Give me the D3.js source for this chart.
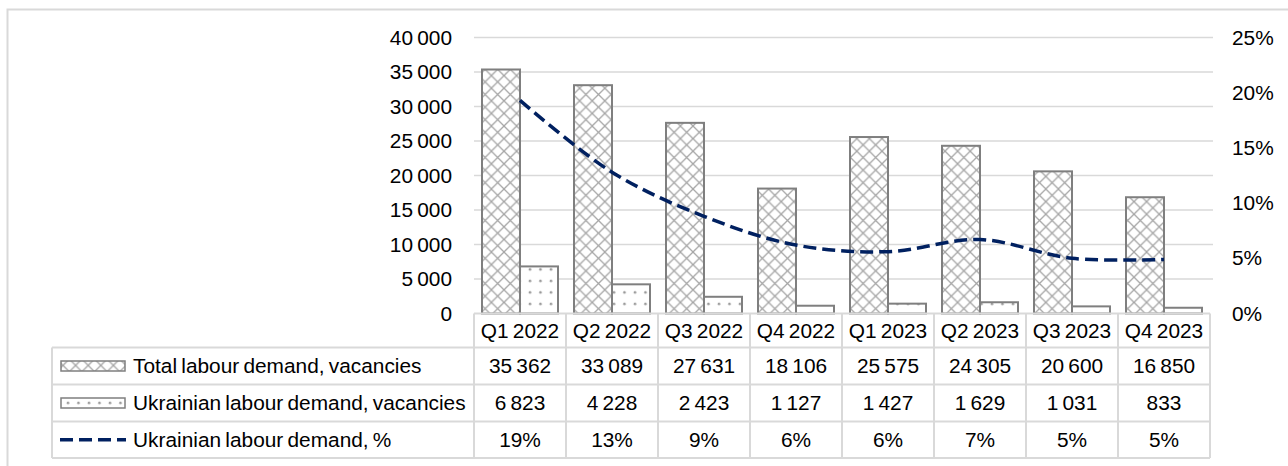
<!DOCTYPE html>
<html>
<head>
<meta charset="utf-8">
<script src="https://cdn.jsdelivr.net/npm/d3@7"></script>
<style>
  html, body { margin: 0; padding: 0; background: #fff; }
  svg text { font-family: "Liberation Sans", Arial, sans-serif; fill: #000; word-spacing: -1.5px; }
</style>
</head>
<body>
<svg id="chart" width="1288" height="466"></svg>
<script>
// data
var quarters = ["Q1 2022", "Q2 2022", "Q3 2022", "Q4 2022", "Q1 2023", "Q2 2023", "Q3 2023", "Q4 2023"];
var totalDemand = [35362, 33089, 27631, 18106, 25575, 24305, 20600, 16850];
var ukrDemand = [6823, 4228, 2423, 1127, 1427, 1629, 1031, 833];
var ukrShare = [19.3, 12.8, 8.8, 6.2, 5.6, 6.7, 5.0, 4.9];
var ukrShareLabels = ["19%", "13%", "9%", "6%", "6%", "7%", "5%", "5%"];
var leftTicks = [0, 5000, 10000, 15000, 20000, 25000, 30000, 35000, 40000];
var rightTicks = [0, 5, 10, 15, 20, 25];
var seriesNames = ["Total labour demand, vacancies", "Ukrainian labour demand, vacancies", "Ukrainian labour demand, %"];

var svg = d3.select("#chart");
var W = 1288, H = 466;
var fs = 19.5, sx = 1.07;
var grid = "#d9d9d9", barStroke = "#7f7f7f", navy = "#002060";

var loc = d3.formatLocale({decimal: ",", thousands: " ", grouping: [3], currency: ["", ""]});
var fmt = loc.format(",d");

// layout
var plotL = 474, plotR = 1210, plotT = 37.5, plotB = 313.5;
var rows = [313.5, 347.5, 384.5, 421.5, 458];
var tableL = 52;
var rowMid = function(k){ return (rows[k] + rows[k + 1]) / 2; };

function txt(g, x, y, s, anchor) {
  return g.append("text")
    .attr("transform", "translate(" + x + "," + y + ") scale(" + sx + ",1)")
    .attr("text-anchor", anchor || "middle")
    .attr("dy", "0.36em")
    .attr("font-size", fs)
    .text(s);
}

var defs = svg.append("defs");
var hatch = defs.append("pattern").attr("id", "hatch")
  .attr("patternUnits", "userSpaceOnUse").attr("width", 12.6).attr("height", 12.6);
hatch.append("rect").attr("width", 12.6).attr("height", 12.6).attr("fill", "#fff");
hatch.append("path").attr("d", "M0,0L12.6,12.6M12.6,0L0,12.6M-1,11.6L1,13.6M11.6,-1L13.6,1")
  .attr("stroke", "#a6a6a6").attr("stroke-width", 1.3);

function dotPattern(id, oy) {
  var p = defs.append("pattern").attr("id", id)
    .attr("patternUnits", "userSpaceOnUse").attr("y", oy).attr("width", 10.5).attr("height", 11.5);
  p.append("rect").attr("width", 10.5).attr("height", 11.5).attr("fill", "#fff");
  p.append("circle").attr("cx", 5).attr("cy", 5).attr("r", 1.3).attr("fill", "#999");
}
dotPattern("dots", 0);
dotPattern("dotsKey", rowMid(2) - 5);

// outer frame
svg.append("path").attr("d", "M7.5," + H + "V9.5H" + W)
  .attr("fill", "none").attr("stroke", grid).attr("stroke-width", 2);

var x = d3.scaleBand().domain(quarters).range([plotL, plotR]);
var x1 = d3.scaleBand().domain(["total", "ukr"]).range([8, x.bandwidth() - 8]);
var y = d3.scaleLinear().domain([0, 40000]).range([plotB, plotT]);
var y2 = d3.scaleLinear().domain([0, 25]).range([plotB, plotT]);

// gridlines
svg.append("g").selectAll("line").data(leftTicks.slice(1)).join("line")
  .attr("x1", plotL).attr("x2", 1213)
  .attr("y1", function(d){ return y(d); }).attr("y2", function(d){ return y(d); })
  .attr("stroke", grid).attr("stroke-width", 1.5);

// axis labels
var axL = svg.append("g");
leftTicks.forEach(function(t){ txt(axL, 452, y(t), fmt(t), "end"); });
var axR = svg.append("g");
rightTicks.forEach(function(t){ txt(axR, 1232, y2(t), t + "%", "start"); });

// bars
var bars = svg.append("g");
bars.selectAll("rect.total").data(totalDemand).join("rect").attr("class", "total")
  .attr("x", function(d, i){ return x(quarters[i]) + x1("total"); })
  .attr("width", x1.bandwidth())
  .attr("y", function(d){ return y(d); })
  .attr("height", function(d){ return y(0) - y(d); })
  .attr("fill", "url(#hatch)").attr("stroke", barStroke).attr("stroke-width", 2);
bars.selectAll("rect.ukr").data(ukrDemand).join("rect").attr("class", "ukr")
  .attr("x", function(d, i){ return x(quarters[i]) + x1("ukr"); })
  .attr("width", x1.bandwidth())
  .attr("y", function(d){ return y(d); })
  .attr("height", function(d){ return y(0) - y(d); })
  .attr("fill", "url(#dots)").attr("stroke", barStroke).attr("stroke-width", 2);

// share line
var line = d3.line()
  .x(function(d, i){ return x(quarters[i]) + x.bandwidth() / 2; })
  .y(function(d){ return y2(d); })
  .curve(d3.curveCatmullRom);
svg.append("path").datum(ukrShare).attr("d", line)
  .attr("fill", "none").attr("stroke", navy).attr("stroke-width", 3.5)
  .attr("stroke-dasharray", "13,6");

// data table
var tbl = svg.append("g").attr("stroke", grid).attr("stroke-width", 2);
tbl.append("line").attr("x1", plotL).attr("x2", plotR).attr("y1", rows[0]).attr("y2", rows[0]);
rows.slice(1).forEach(function(r){
  tbl.append("line").attr("x1", tableL).attr("x2", plotR).attr("y1", r).attr("y2", r);
});
tbl.append("line").attr("x1", tableL).attr("x2", tableL).attr("y1", rows[1]).attr("y2", rows[4]);
quarters.forEach(function(q){
  tbl.append("line").attr("x1", x(q)).attr("x2", x(q)).attr("y1", rows[0]).attr("y2", rows[4]);
});
tbl.append("line").attr("x1", plotR).attr("x2", plotR).attr("y1", rows[0]).attr("y2", rows[4]);

var tt = svg.append("g");
quarters.forEach(function(q, i){
  var cx = x(q) + x.bandwidth() / 2;
  txt(tt, cx, rowMid(0), q);
  txt(tt, cx, rowMid(1), fmt(totalDemand[i]));
  txt(tt, cx, rowMid(2), fmt(ukrDemand[i]));
  txt(tt, cx, rowMid(3), ukrShareLabels[i]);
});

// legend keys in the table
var lg = svg.append("g");
lg.append("rect").attr("x", 61).attr("y", rowMid(1) - 5).attr("width", 64).attr("height", 10)
  .attr("fill", "url(#hatch)").attr("stroke", barStroke).attr("stroke-width", 1.5);
lg.append("rect").attr("x", 61).attr("y", rowMid(2) - 5).attr("width", 64).attr("height", 10)
  .attr("fill", "url(#dotsKey)").attr("stroke", barStroke).attr("stroke-width", 1.5);
lg.append("line").attr("x1", 60).attr("x2", 126).attr("y1", rowMid(3)).attr("y2", rowMid(3))
  .attr("stroke", navy).attr("stroke-width", 3.5).attr("stroke-dasharray", "13,6");
seriesNames.forEach(function(s, k){ txt(lg, 133, rowMid(k + 1), s, "start"); });
</script>
</body>
</html>
